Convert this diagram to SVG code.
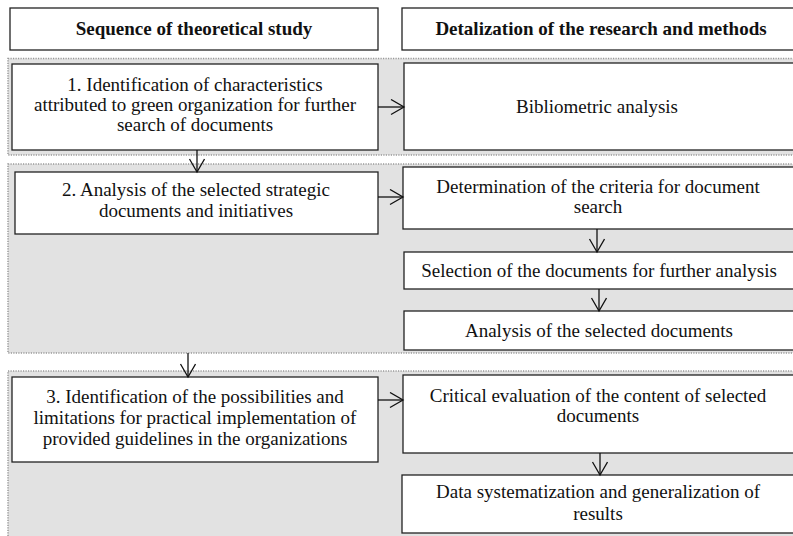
<svg xmlns="http://www.w3.org/2000/svg" width="793" height="536" viewBox="0 0 793 536" font-family="Liberation Serif, Times New Roman, serif">
<style>
.grp{fill:#e2e2e2;stroke:#999;stroke-width:1.5;stroke-dasharray:1.2 1.3}
.box{fill:#fff;stroke:#222;stroke-width:1.3}
.t{font-size:19px;fill:#111;text-anchor:middle}
.h{font-weight:bold}
.c{fill:none;stroke:#111;stroke-width:1.3}
</style>
<defs>
<marker id="arr" markerUnits="userSpaceOnUse" markerWidth="16" markerHeight="18" refX="14" refY="8" orient="auto">
<path d="M1,0.5 L14,8 L1,15.5" fill="none" stroke="#111" stroke-width="1.3"/>
</marker>
</defs>
<rect x="0" y="0" width="793" height="536" fill="#fff"/>
<g id="groups">
<rect class="grp" x="8" y="58.5" width="800" height="96.5"/>
<rect class="grp" x="8" y="164" width="800" height="189"/>
<rect class="grp" x="8" y="371" width="800" height="180"/>
</g>
<g id="hdr-left"><rect class="box" x="10" y="8" width="368" height="42"/><text class="t h" x="194" y="35">Sequence of theoretical study</text></g>
<g id="hdr-right"><rect class="box" x="402" y="8" width="400" height="42"/><text class="t h" x="601" y="35">Detalization of the research and methods</text></g>
<g id="step1"><rect class="box" x="12" y="64" width="366" height="86"/>
<text class="t" x="195" y="91">1. Identification of characteristics</text>
<text class="t" x="195" y="111">attributed to green organization for further</text>
<text class="t" x="195" y="131">search of documents</text></g>
<g id="biblio"><rect class="box" x="404" y="63" width="400" height="87"/><text class="t" x="597" y="113">Bibliometric analysis</text></g>
<g id="step2"><rect class="box" x="15" y="172" width="363" height="62"/>
<text class="t" x="196" y="196">2. Analysis of the selected strategic</text>
<text class="t" x="196" y="217">documents and initiatives</text></g>
<g id="criteria"><rect class="box" x="403" y="167" width="400" height="62"/>
<text class="t" x="598" y="193">Determination of the criteria for document</text>
<text class="t" x="598" y="213">search</text></g>
<g id="selection"><rect class="box" x="404" y="252" width="400" height="37"/>
<text class="t" x="599" y="277">Selection of the documents for further analysis</text></g>
<g id="analysis"><rect class="box" x="404" y="311" width="400" height="39"/>
<text class="t" x="599" y="337">Analysis of the selected documents</text></g>
<g id="step3"><rect class="box" x="12" y="377" width="366" height="85"/>
<text class="t" x="195" y="403">3. Identification of the possibilities and</text>
<text class="t" x="195" y="424">limitations for practical implementation of</text>
<text class="t" x="195" y="445">provided guidelines in the organizations</text></g>
<g id="critical"><rect class="box" x="403" y="375" width="400" height="78"/>
<text class="t" x="598" y="402">Critical evaluation of the content of selected</text>
<text class="t" x="598" y="422">documents</text></g>
<g id="datasys"><rect class="box" x="402" y="475" width="400" height="58"/>
<text class="t" x="598" y="498">Data systematization and generalization of</text>
<text class="t" x="598" y="520">results</text></g>
<g id="connectors">
<line class="c" x1="378" y1="107" x2="404" y2="107" marker-end="url(#arr)"/>
<line class="c" x1="197" y1="150" x2="197" y2="172" marker-end="url(#arr)"/>
<line class="c" x1="378" y1="197" x2="403" y2="197" marker-end="url(#arr)"/>
<line class="c" x1="597" y1="229" x2="597" y2="252" marker-end="url(#arr)"/>
<line class="c" x1="599" y1="289" x2="599" y2="311" marker-end="url(#arr)"/>
<line class="c" x1="188" y1="353" x2="188" y2="377" marker-end="url(#arr)"/>
<line class="c" x1="378" y1="400" x2="403" y2="400" marker-end="url(#arr)"/>
<line class="c" x1="600" y1="453" x2="600" y2="475" marker-end="url(#arr)"/>
</g>
</svg>
